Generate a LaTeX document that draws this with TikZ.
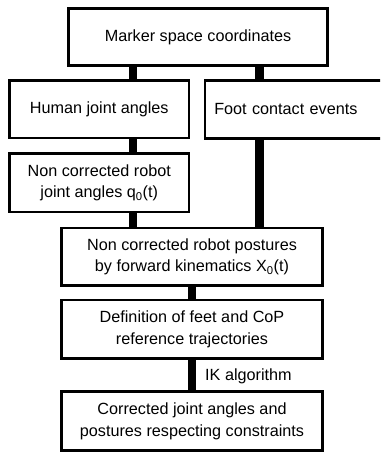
\documentclass[tikz,border=0pt]{standalone}
\usepackage{fontspec}
\setmainfont{Liberation Sans}
\begin{document}
\begin{tikzpicture}[x=1pt,y=1pt,
  box/.style={draw=black, line width=2.6pt, fill=white, inner sep=0pt,
    align=center, font=\fontsize{16.2}{21.7}\selectfont},
  link/.style={draw=black, line width=8.5pt, line cap=butt},
  lbl/.style={inner sep=0pt, font=\fontsize{16.2}{21.7}\selectfont}]
\clip (0,0) rectangle (380,-454);
\useasboundingbox (0,0) rectangle (380,-454);

% boxes
\node[box, minimum width=259pt, minimum height=57pt] (marker) at (198,-37)
  {Marker space coordinates};
\node[box, minimum width=179.5pt, minimum height=57.5pt] (human) at (99.25,-109.25)
  {Human joint angles};
\node[box, anchor=west, minimum width=190pt, minimum height=58pt,
  inner xsep=9.5pt, text width=171pt, align=left] (foot) at (203.5,-109.5)
  {Foot contact events};
\node[box, minimum width=179.5pt, minimum height=58.5pt] (robotq) at (99.25,-182.75)
  {Non corrected robot\\joint angles q\textsubscript{0}(t)};
\node[box, minimum width=261pt, minimum height=57.5pt] (fk) at (192,-256.75)
  {Non corrected robot postures\\by forward kinematics X\textsubscript{0}(t)};
\node[box, minimum width=261pt, minimum height=58.5pt] (ref) at (192,-329.25)
  {Definition of feet and CoP\\reference trajectories};
\node[box, minimum width=261pt, minimum height=59pt] (out) at (192,-421)
  {Corrected joint angles and\\postures respecting constraints};

% columns of the connectors
\coordinate (colL) at (133,0);
\coordinate (colR) at (259.5,0);
\coordinate (colM) at (192,0);

% connectors
\draw[link] (marker.south -| colL) -- (human.north -| colL);
\draw[link] (marker.south -| colR) -- (foot.north -| colR);
\draw[link] (human.south -| colL) -- (robotq.north -| colL);
\draw[link] (robotq.south -| colL) -- (fk.north -| colL);
\draw[link] (foot.south -| colR) -- (fk.north -| colR);
\draw[link] (fk.south -| colM) -- (ref.north -| colM);
\draw[link] (ref.south -| colM) -- (out.north -| colM);

\node[lbl, anchor=base west] (ik) at (205,-380.5) {IK algorithm};
\end{tikzpicture}
\end{document}
